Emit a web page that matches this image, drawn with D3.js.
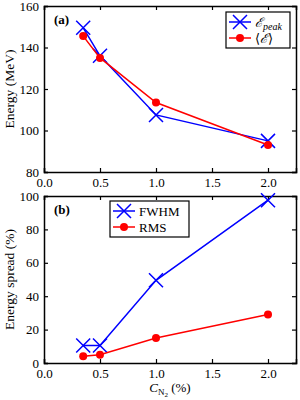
<!DOCTYPE html>
<html>
<head>
<meta charset="utf-8">
<script src="https://cdn.jsdelivr.net/npm/d3@7"></script>
<style>
  body { margin: 0; background: #fff; }
  svg text { font-family: "Liberation Serif", "DejaVu Serif", serif; fill: #000; }
</style>
</head>
<body>
<div id="chart"></div>
<script>
var conc = [0.35, 0.5, 1.0, 2.0];
var ePeak = [149.5, 136, 107.5, 95];
var eMean = [145.5, 135, 113.5, 93];
var fwhm = [10.5, 10.5, 49.5, 97.5];
var rms = [4, 5, 15, 29];
var xTicks = [0, 0.5, 1.0, 1.5, 2.0];
var yTicksA = [80, 100, 120, 140, 160];
var yTicksB = [0, 20, 40, 60, 80, 100];

var width = 300, height = 400;
var svg = d3.select('#chart').append('svg')
    .attr('width', width)
    .attr('height', height);

var x = d3.scaleLinear().domain([0, 2.25]).range([44, 296]);

function panel(top, bottom, domain, ticks, series, label, ylabel, legend) {
    var y = d3.scaleLinear().domain(domain).range([bottom, top]);
    var g = svg.append('g');

    // frame ticks (inward, mirrored)
    g.append('g').attr('transform', 'translate(0,' + bottom + ')')
        .call(d3.axisBottom(x).tickValues(xTicks).tickSize(-4).tickPadding(6).tickFormat(d3.format('.1f')));
    g.append('g').attr('transform', 'translate(0,' + top + ')')
        .call(d3.axisTop(x).tickValues(xTicks).tickSize(-4).tickFormat(''));
    g.append('g').attr('transform', 'translate(44,0)')
        .call(d3.axisLeft(y).tickValues(ticks).tickSize(-4).tickPadding(5));
    g.append('g').attr('transform', 'translate(296,0)')
        .call(d3.axisRight(y).tickValues(ticks).tickSize(-4).tickFormat(''));
    g.selectAll('.domain').attr('stroke-width', 1.5);
    g.selectAll('.tick line').attr('stroke-width', 1.2);
    g.selectAll('.tick text').style('font-size', '13px').style('font-family', '"Liberation Serif", serif');

    var line = d3.line().x(function (d) { return x(d[0]); }).y(function (d) { return y(d[1]); });

    series.forEach(function (s) {
        var pts = conc.map(function (c, i) { return [c, s.values[i]]; });
        g.append('path').datum(pts)
            .attr('fill', 'none').attr('stroke', s.color).attr('stroke-width', 1.5)
            .attr('d', line);
        pts.forEach(function (p) {
            marker(g, x(p[0]), y(p[1]), s);
        });
    });

    g.append('text').attr('x', 54).attr('y', top + 18)
        .style('font-size', '13px').style('font-weight', 'bold')
        .text(label);

    g.append('text')
        .attr('transform', 'translate(14,' + ((top + bottom) / 2) + ') rotate(-90)')
        .attr('text-anchor', 'middle')
        .style('font-size', '13.5px')
        .text(ylabel);

    // legend
    var lg = g.append('g').attr('transform', 'translate(' + legend.x + ',' + legend.y + ')');
    lg.append('rect').attr('width', legend.w).attr('height', 36)
        .attr('fill', '#fff').attr('stroke', '#000').attr('stroke-width', 1.2);
    series.forEach(function (s, i) {
        var ly = 10 + i * 16;
        lg.append('line').attr('x1', 3).attr('x2', 25).attr('y1', ly).attr('y2', ly)
            .attr('stroke', s.color).attr('stroke-width', 1.5);
        marker(lg, 14, ly, s);
        var t = lg.append('text').attr('x', 29).attr('y', ly + 4.5).style('font-size', '13px');
        s.legend(t);
    });
}

function marker(g, cx, cy, s) {
    if (s.shape === 'x') {
        var r = 7;
        g.append('path')
            .attr('d', 'M' + (cx - r) + ',' + (cy - r) + 'L' + (cx + r) + ',' + (cy + r) +
                'M' + (cx - r) + ',' + (cy + r) + 'L' + (cx + r) + ',' + (cy - r))
            .attr('stroke', s.color).attr('stroke-width', 1.5).attr('fill', 'none');
    } else {
        g.append('circle').attr('cx', cx).attr('cy', cy).attr('r', 4).attr('fill', s.color);
    }
}

panel(6, 172, [80, 160], yTicksA, [
    { values: ePeak, color: '#0000ff', shape: 'x', legend: function (t) {
        t.append('tspan').style('font-style', 'italic').text('ℰ');
        t.append('tspan').attr('dy', 3).style('font-size', '10px').style('font-style', 'italic').text('peak');
    } },
    { values: eMean, color: '#ff0000', shape: 'o', legend: function (t) {
        t.append('tspan').text('⟨');
        t.append('tspan').style('font-style', 'italic').text('ℰ');
        t.append('tspan').text('⟩');
    } }
], '(a)', 'Energy (MeV)', { x: 226, y: 12, w: 64 });

panel(196, 363, [0, 100], yTicksB, [
    { values: fwhm, color: '#0000ff', shape: 'x', legend: function (t) { t.text('FWHM'); } },
    { values: rms, color: '#ff0000', shape: 'o', legend: function (t) { t.text('RMS'); } }
], '(b)', 'Energy spread (%)', { x: 110, y: 201, w: 79 });

// x label
var xl = svg.append('text').attr('x', 170).attr('y', 392).attr('text-anchor', 'middle')
    .style('font-size', '13px');
xl.append('tspan').style('font-style', 'italic').text('C');
xl.append('tspan').attr('dy', 3).style('font-size', '9px').text('N');
xl.append('tspan').attr('dy', 2).style('font-size', '7px').text('2');
xl.append('tspan').attr('dy', -5).text(' (%)');
</script>
</body>
</html>
